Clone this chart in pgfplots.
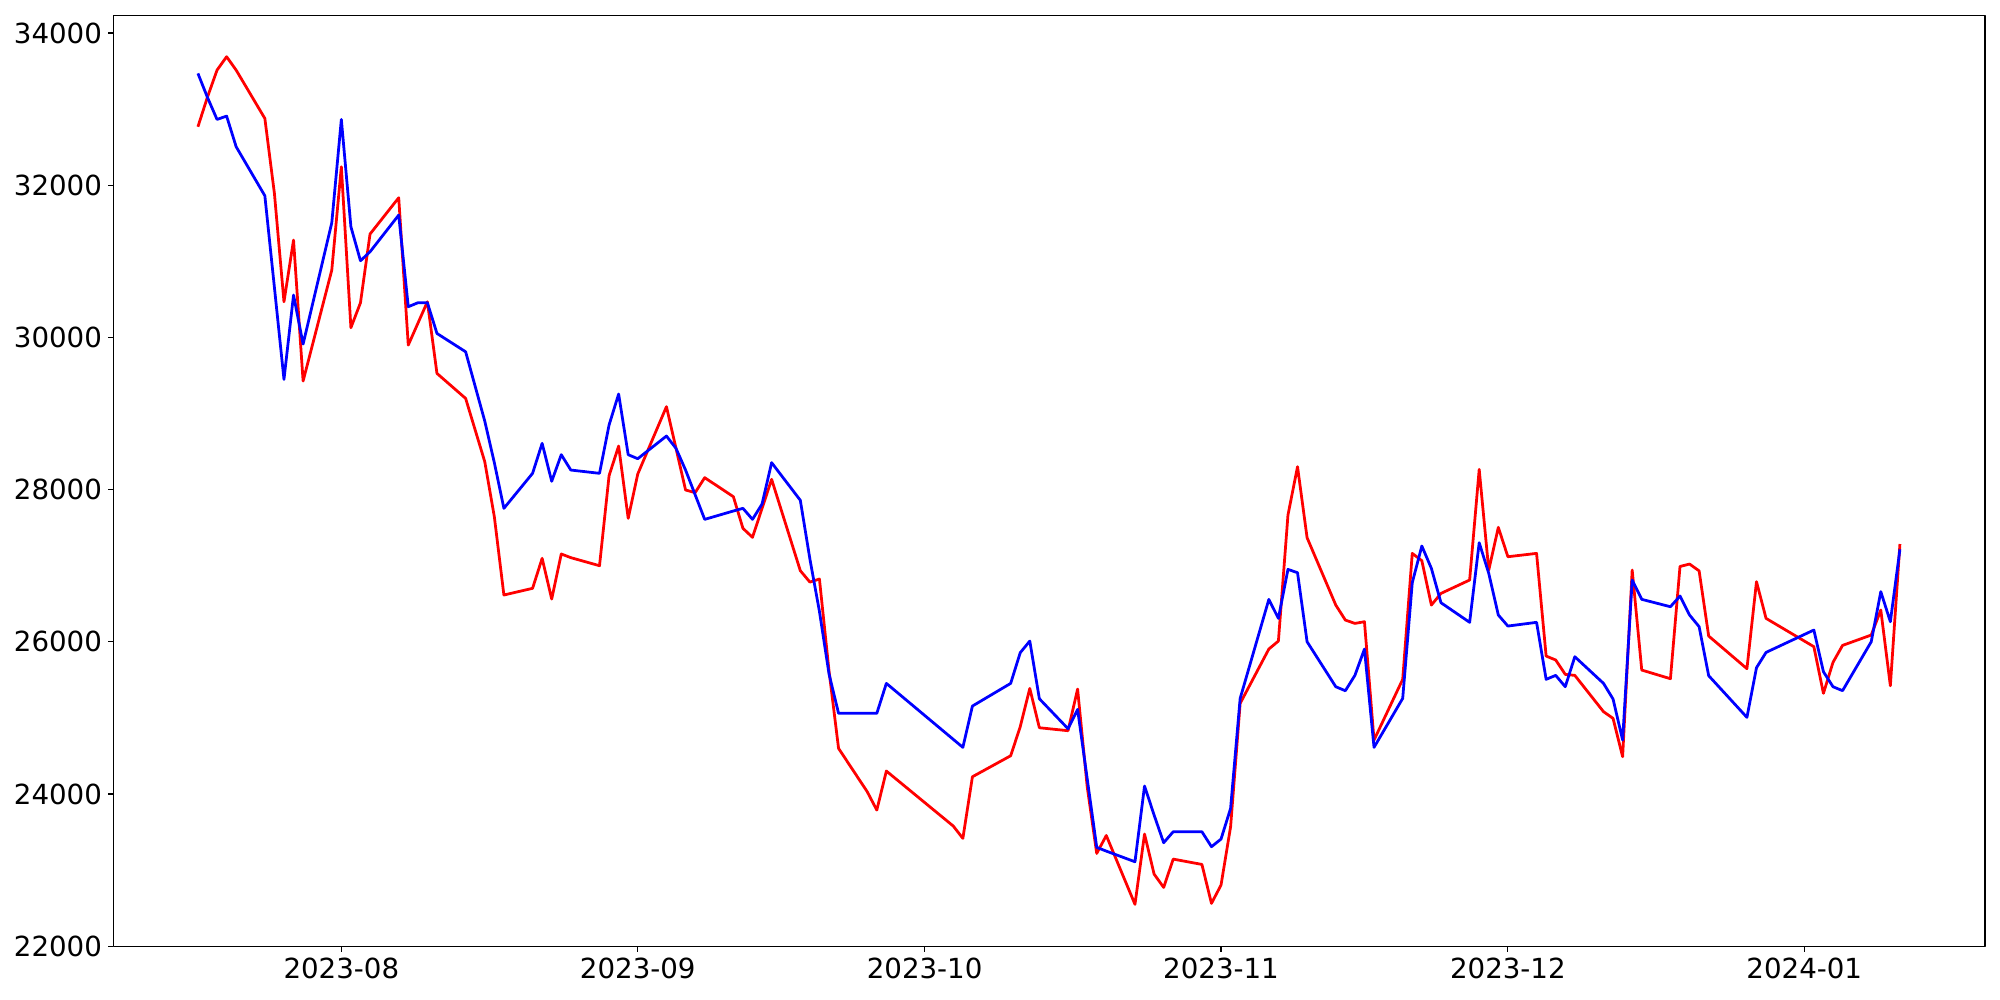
\documentclass[border=0pt]{standalone}
\usepackage{fontspec}
\setmainfont{DejaVu Sans}
\usepackage{pgfplots}
\usepackage{pgfplotstable}
\pgfplotsset{compat=1.18}

% d = days since 2023-08-01, red and blue series
\pgfplotstableread{
d red blue
-15 32768 33469
-14 33158 33153
-13 33512 32864
-12 33688 32908
-11 33512 32505
-8 32877 31861
-7 31892 30657
-6 30468 29448
-5 31279 30556
-4 29426 29912
-1 30884 31506
0 32242 32864
1 30127 31454
2 30455 31007
3 31358 31125
6 31835 31607
7 29899 30403
8 30184 30455
9 30468 30455
10 29527 30052
13 29198 29811
15 28366 28900
16 27644 28354
17 26615 27754
20 26703 28214
21 27097 28608
22 26562 28109
23 27154 28459
24 27106 28257
27 27000 28214
28 28183 28849
29 28573 29256
30 27622 28459
31 28205 28406
34 29090 28704
35 28542 28542
36 27995 28257
37 27960 27933
38 28157 27609
41 27907 27719
42 27491 27754
43 27373 27609
44 27754 27811
45 28135 28354
48 26935 27860
49 26785 27090
50 26825 26400
51 25620 25580
52 24600 25060
55 24030 25060
56 23789 25060
57 24302 25454
64 23579 24718
65 23417 24613
66 24227 25156
70 24503 25454
71 24884 25857
72 25388 26010
73 24871 25252
76 24832 24858
77 25379 25112
78 24100 24206
79 23220 23299
80 23455 23250
83 22550 23110
84 23474 24105
85 22948 23724
86 22773 23360
87 23145 23505
90 23075 23505
91 22563 23308
92 22804 23408
93 23570 23811
94 25191 25256
97 25905 26557
98 26010 26308
99 27666 26952
100 28301 26908
101 27368 26001
104 26483 25410
105 26286 25357
106 26242 25559
107 26264 25905
108 24709 24613
111 25507 25257
112 27162 26777
113 27066 27259
114 26483 26965
115 26636 26514
118 26812 26256
119 28266 27302
120 26943 26899
121 27504 26352
122 27118 26207
125 27162 26256
126 25813 25507
127 25761 25559
128 25572 25410
129 25559 25804
132 25082 25454
133 24994 25248
134 24491 24709
135 26943 26812
136 25629 26558
139 25515 26461
140 26990 26602
141 27022 26352
142 26932 26199
143 26076 25555
147 25647 25007
148 26790 25660
149 26308 25861
154 25936 26155
155 25323 25607
156 25730 25410
157 25953 25358
160 26089 26001
161 26418 26659
162 25423 26264
163 27285 27215
}\data

\begin{document}
\begin{tikzpicture}
\useasboundingbox (0,0) rectangle (1445.4pt,722.7pt);
\begin{axis}[
  at={(81.88pt,38.52pt)}, anchor=south west,
  scale only axis, width=1352.7pt, height=673.1pt,
  xmin=-23.85, xmax=171.9,
  ymin=21994, ymax=34232,
  xtick={0,31,61,92,122,153},
  xticklabels={2023-08,2023-09,2023-10,2023-11,2023-12,2024-01},
  ytick={22000,24000,26000,28000,30000,32000,34000},
  yticklabels={22000,24000,26000,28000,30000,32000,34000},
  tick pos=left, tick align=outside,
  major tick length=3.5pt,
  tick style={line width=0.8pt, black},
  axis line style={line width=0.8pt},
  ticklabel style={font=\fontsize{20}{24}\selectfont, inner sep=4.5pt},
  line join=round,
]
\addplot[red, line width=2pt, mark=none] table[x=d, y=red] {\data};
\addplot[blue, line width=2pt, mark=none] table[x=d, y=blue] {\data};
\end{axis}
\end{tikzpicture}
\end{document}
